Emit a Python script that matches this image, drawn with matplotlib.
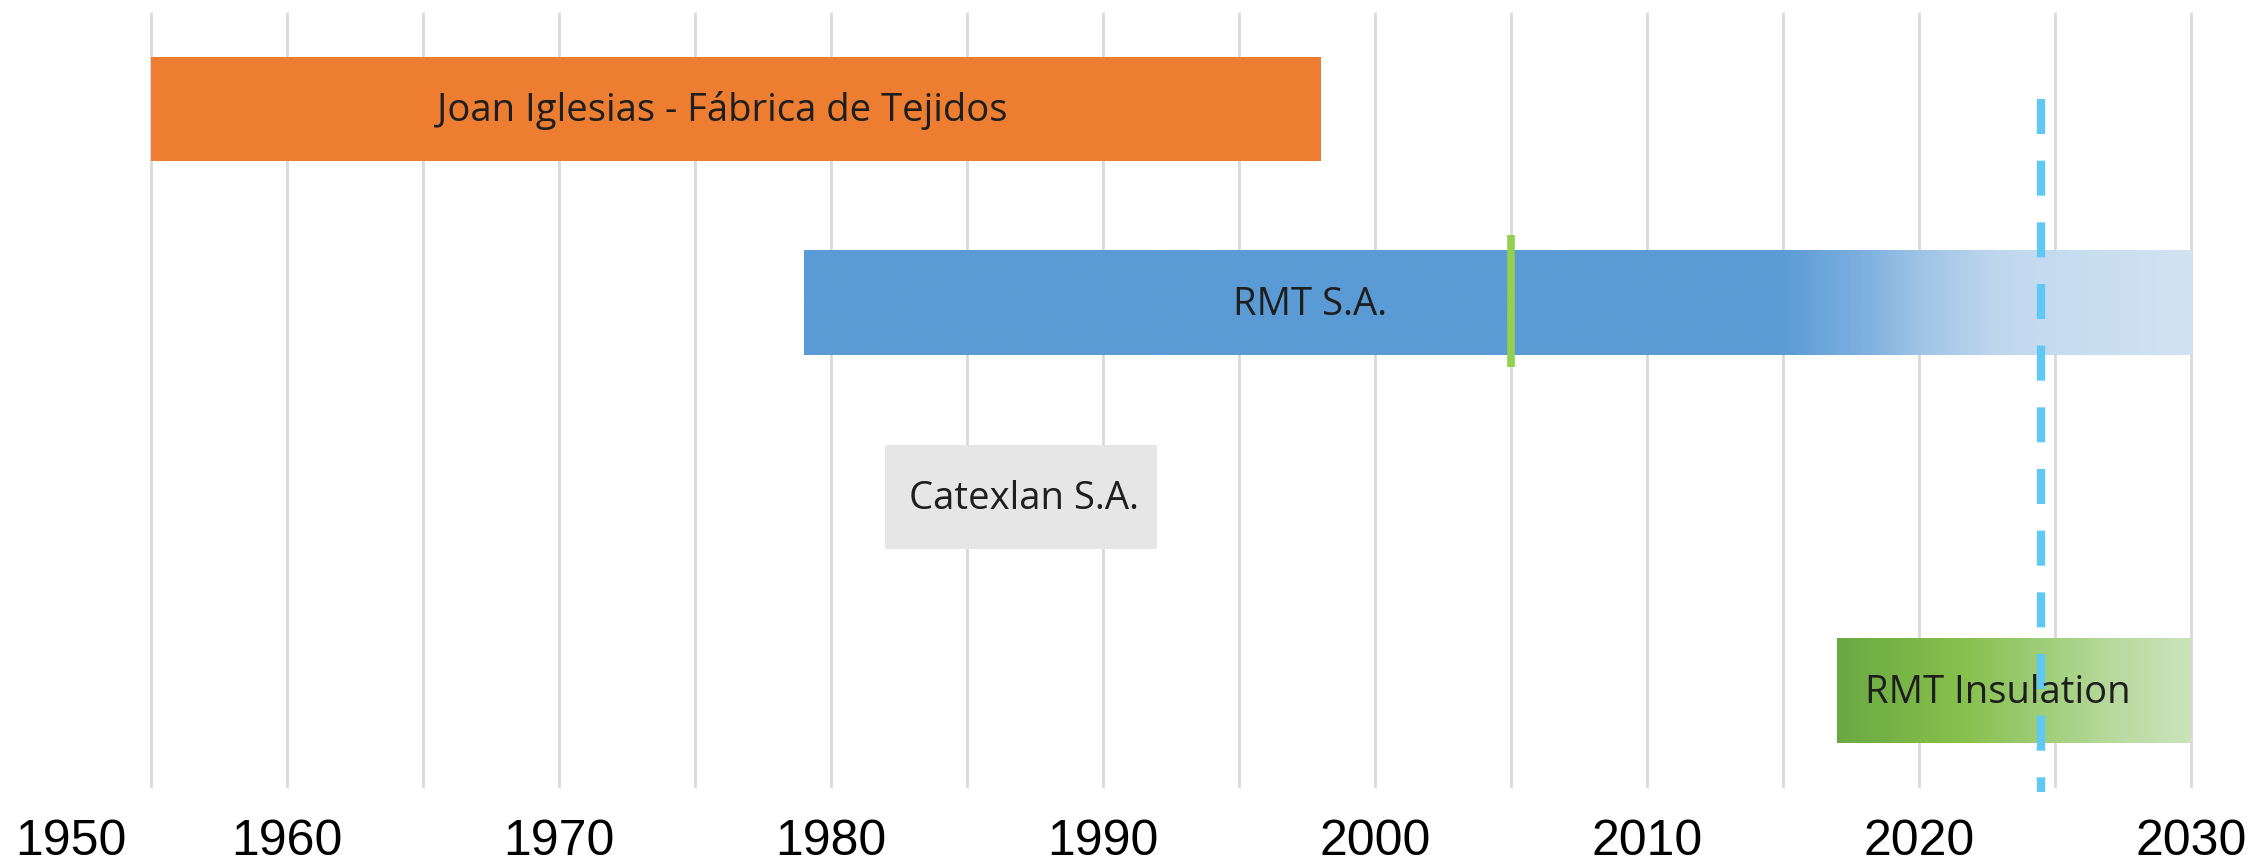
"""Company timeline, 1955-2030, as horizontal bars with fading tails."""
import numpy as np
import matplotlib
matplotlib.use("Agg")
import matplotlib.pyplot as plt
from matplotlib.colors import LinearSegmentedColormap

# --- data ---------------------------------------------------------------
companies = ["Joan Iglesias - Fábrica de Tejidos", "RMT S.A.",
             "Catexlan S.A.", "RMT Insulation"]
start_year = [1955, 1979, 1982, 2017]
end_year = [1998, 2030, 1992, 2030]
label_year = [1976.0, 1997.6, 1987.1, 2022.9]   # where each name sits

# gradient stops (year, colour) for the fading bars
rmt_stops_year = [1979, 2015, 2018, 2020, 2023, 2030]
rmt_stops_color = ["#5B9BD5", "#5B9BD5", "#7EB0E0", "#9DC3E6", "#C0D8EE", "#D1E3F3"]
ins_stops_year = [2017, 2021.5, 2024, 2027, 2030]
ins_stops_color = ["#6AA842", "#86C04C", "#9ACB70", "#B6D99C", "#CBE4BB"]

flat_colors = ["#ED7D31", None, "#E7E6E6", None]
milestone_year = 2005      # green mark on RMT S.A.
today_year = 2024.5        # dashed "now" line

tick_years = [1950, 1960, 1970, 1980, 1990, 2000, 2010, 2020, 2030]
grid_years = np.arange(1955, 2031, 5)

# --- figure ---------------------------------------------------------------
W, H, DPI = 2267, 864, 100
fig = plt.figure(figsize=(W / DPI, H / DPI), dpi=DPI)
ax = fig.add_axes([0, 76 / H, 1, 1 - 88 / H])
xlim = (1955 - 151 / 27.2, 2030 + 76 / 27.2)

ax.vlines(grid_years, -0.5, 3.5, color="#D9D9D9", lw=2, zorder=0)

bar_h = 0.54
rows = np.arange(len(companies))


def gradient_bar(y, x0, x1, stops_year, stops_color):
    pos = [(s - x0) / (x1 - x0) for s in stops_year]
    cmap = LinearSegmentedColormap.from_list("g", list(zip(pos, stops_color)))
    grad = np.linspace(0, 1, 512).reshape(1, -1)
    ax.imshow(grad, cmap=cmap, aspect="auto", interpolation="bilinear",
              extent=(x0, x1, y + bar_h / 2, y - bar_h / 2), zorder=1)


for i, (x0, x1, c) in enumerate(zip(start_year, end_year, flat_colors)):
    if c is not None:
        ax.barh(rows[i], x1 - x0, left=x0, height=bar_h, color=c, zorder=1)

gradient_bar(rows[1], start_year[1], end_year[1], rmt_stops_year, rmt_stops_color)
gradient_bar(rows[3], start_year[3], end_year[3], ins_stops_year, ins_stops_color)
ax.set_ylim(3.5, -0.5)
ax.set_xlim(*xlim)

ax.vlines(milestone_year, rows[1] - 0.35, rows[1] + 0.33, color="#92D050",
          lw=5.5, zorder=3)
ax.vlines(today_year, -0.05, 3.52, color="#5FC9F3", lw=6,
          linestyles=(0, (4.2, 3.2)), zorder=4, clip_on=False)

for i, name in enumerate(companies):
    ax.text(label_year[i], rows[i] + 0.01, name, ha="center", va="center",
            fontsize=27.5, color="#1E1E1E", family=["Open Sans", "DejaVu Sans"],
            zorder=5)

ax.set_xticks(tick_years)
ax.set_xticklabels([str(y) for y in tick_years], fontsize=36,
                   family=["Liberation Sans", "DejaVu Sans"])
ax.get_xticklabels()[0].set_horizontalalignment("left")
ax.tick_params(axis="x", length=0, pad=22)
ax.set_yticks([])
for s in ax.spines.values():
    s.set_visible(False)

fig.savefig("out.png", dpi=DPI)
